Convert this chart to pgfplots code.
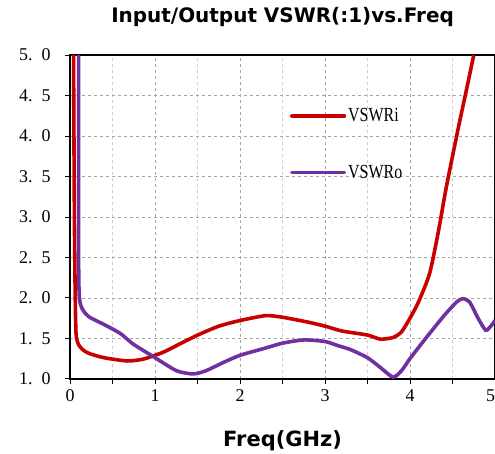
\documentclass[border=0pt]{standalone}
\usepackage{pgfplots}
\pgfplotsset{compat=1.18}
\usepackage{fontspec}
\setmainfont{Liberation Serif}
\newfontfamily\titlefont{DejaVu Sans}
\newfontfamily\simfont[FakeStretch=0.8]{Liberation Serif}

\definecolor{vswri}{RGB}{200,0,0}
\definecolor{vswro}{RGB}{112,48,160}

\newcommand{\yl}[2]{#1.\hspace{0.5em}#2\hspace{-7bp}}

\begin{document}
\begin{tikzpicture}[trim axis right]
\begin{axis}[
    scale only axis,
    width=424bp, height=323bp,
    xmin=0, xmax=5, ymin=1, ymax=5,
    xtick={0,1,2,3,4,5},
    xticklabels={0,1,2,3,4,\llap{5}},
    minor xtick={0.5,1.5,2.5,3.5,4.5},
    ytick={1,1.5,...,5},
    yticklabels={\yl10,\yl15,\yl20,\yl25,\yl30,\yl35,\yl40,\yl45,\yl50},
    /pgf/number format/assume math mode=true,
    ticklabel style={font=\fontsize{18}{18}\selectfont},
    yticklabel style={xshift=-11bp},
    xticklabel style={yshift=-2bp},
    tick align=outside,
    xtick pos=bottom, ytick pos=left,
    axis line style={line width=1.6pt},
    tick style={black, line width=0.8pt},
    major tick length=5bp, minor tick length=5bp,
    grid=both,
    major grid style={gray!70, dashed, line width=0.5pt},
    minor grid style={gray!40, dashed, line width=0.5pt},
    title={\titlefont\bfseries Input/Output VSWR(:1)vs.Freq},
    title style={font=\fontsize{20}{20}\selectfont, yshift=19bp},
    xlabel={\titlefont\bfseries Freq(GHz)},
    xlabel style={font=\fontsize{21}{21}\selectfont, yshift=-22bp},
    legend style={at={(axis cs:2.55,4.39)}, anchor=north west, draw=none, fill=none,
        font=\simfont\fontsize{20}{20}\selectfont, row sep=38pt},
    legend cell align=left,
    legend image code/.code={\draw[#1, line cap=round] (0cm,0cm) -- (1.85cm,0cm);},
]
\addplot[vswri, line width=3.6pt, smooth, tension=0.4] coordinates {
(0.04,5.0) (0.05,3.0) (0.06,2.0) (0.07,1.55) (0.1,1.42) (0.16,1.35) (0.23,1.31) (0.4,1.26)
(0.67,1.22) (0.85,1.24) (0.97,1.28) (1.1,1.33) (1.29,1.43) (1.5,1.54) (1.75,1.65)
(2.0,1.72) (2.3,1.78) (2.5,1.76) (2.8,1.70) (3.0,1.65) (3.2,1.59) (3.5,1.54)
(3.65,1.49) (3.8,1.51) (3.9,1.58) (4.0,1.75) (4.1,1.95) (4.23,2.3) (4.33,2.8)
(4.42,3.33) (4.5,3.75) (4.58,4.16) (4.67,4.6) (4.75,5.0)};
\addlegendentry{VSWRi}
\addplot[vswro, line width=3.6pt, smooth, tension=0.4] coordinates {
(0.1,5.0) (0.1,2.5) (0.11,1.99) (0.15,1.85) (0.23,1.76) (0.4,1.67) (0.59,1.56)
(0.74,1.43) (0.97,1.28) (1.25,1.1) (1.45,1.06) (1.6,1.1) (1.8,1.2) (2.0,1.29)
(2.3,1.38) (2.5,1.44) (2.75,1.48) (3.0,1.46) (3.15,1.41) (3.3,1.36) (3.5,1.26)
(3.65,1.14) (3.8,1.02) (3.9,1.1) (4.0,1.25) (4.2,1.52) (4.4,1.78) (4.55,1.95)
(4.62,1.99) (4.7,1.95) (4.8,1.75) (4.89,1.6) (4.95,1.65) (5.0,1.72)};
\addlegendentry{VSWRo}
\end{axis}
\path (current axis.south west) ++(-70bp,-75bp);
\path (current axis.north west) ++(-70bp,55bp);
\end{tikzpicture}
\end{document}
